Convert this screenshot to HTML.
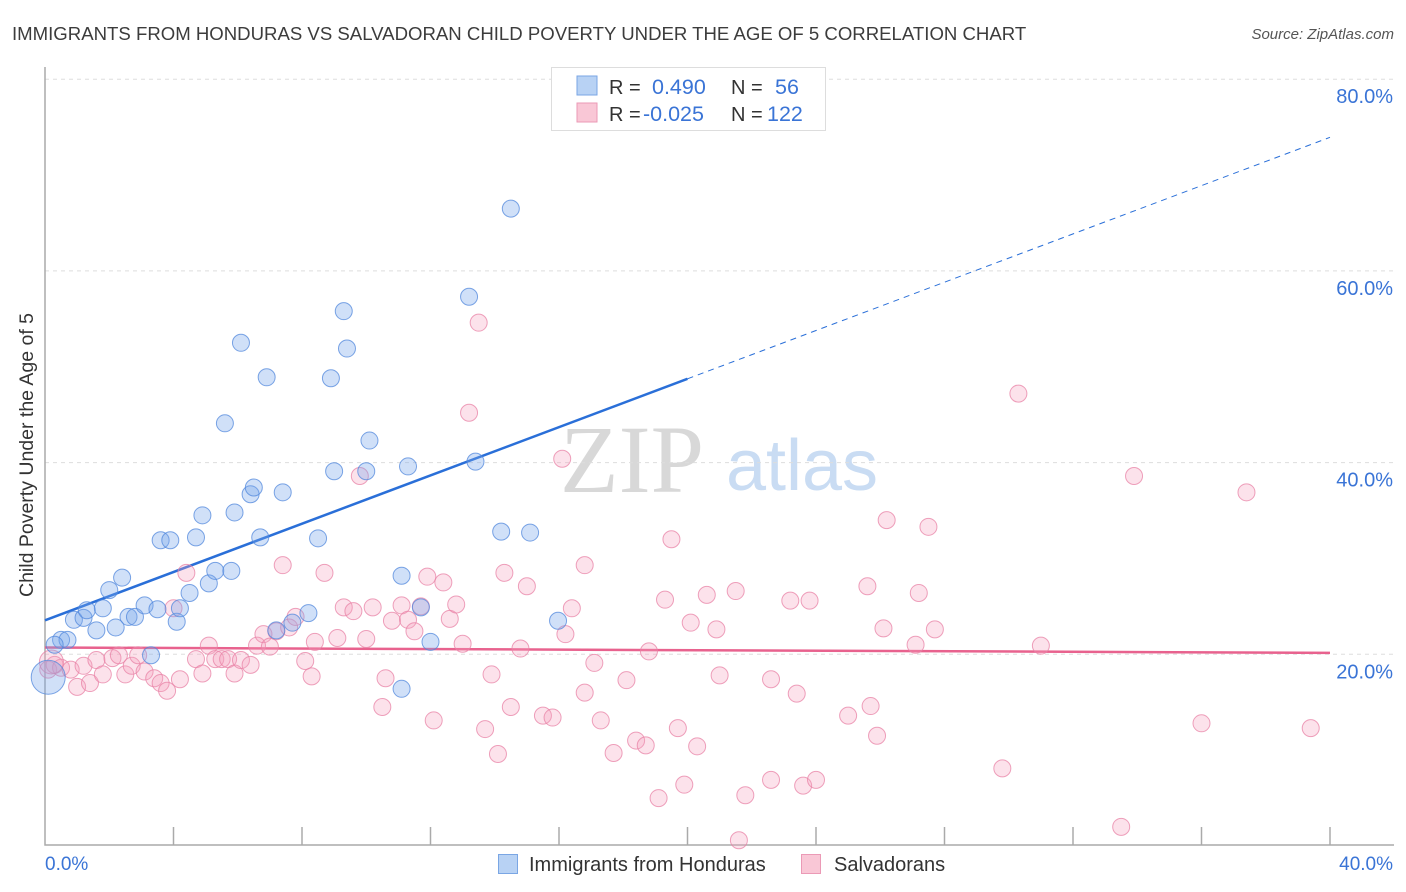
<!DOCTYPE html>
<html><head><meta charset="utf-8">
<style>
body{margin:0;background:#fff;font-family:"Liberation Sans",sans-serif;}
#wrap{position:relative;width:1406px;height:892px;overflow:hidden;}
</style></head>
<body>
<div id="wrap">
<svg id="chart" width="1406" height="892" xmlns="http://www.w3.org/2000/svg">
<text x="12" y="40" font-size="18.6" fill="#3c3c3c">IMMIGRANTS FROM HONDURAS VS SALVADORAN CHILD POVERTY UNDER THE AGE OF 5 CORRELATION CHART</text>
<text x="1394" y="39" font-size="15" fill="#555" font-style="italic" text-anchor="end">Source: ZipAtlas.com</text>
<text transform="translate(33,455) rotate(-90)" font-size="19.5" fill="#333" text-anchor="middle">Child Poverty Under the Age of 5</text>
<g>
<text x="632" y="492" font-size="96" fill="#d8d8d8" font-family="Liberation Serif,serif" text-anchor="middle">ZIP</text>
<text x="802" y="490" font-size="72" fill="#c9dcf3" text-anchor="middle">atlas</text>
</g>
<g id="grid"></g>
<g id="axes"></g>
<g id="trends"></g>
<g id="points"></g>
<g>
<rect x="551.5" y="67.5" width="274" height="63" fill="#fff" stroke="#ddd"/>
<rect x="577" y="76" width="20" height="19" fill="#b8d2f4" stroke="#7aa6e4"/>
<rect x="577" y="103" width="20" height="19" fill="#f9c7d6" stroke="#eb9ab6"/>
<text x="609" y="94" font-size="20" fill="#333">R =</text>
<text x="652" y="94" font-size="21.5" fill="#3a74d6">0.490</text>
<text x="731" y="94" font-size="20" fill="#333">N =</text>
<text x="775" y="94" font-size="21.5" fill="#3a74d6">56</text>
<text x="609" y="121" font-size="20" fill="#333">R =</text>
<text x="643" y="121" font-size="21.5" fill="#3a74d6">-0.025</text>
<text x="731" y="121" font-size="20" fill="#333">N =</text>
<text x="767" y="121" font-size="21.5" fill="#3a74d6">122</text>
</g>
<g>
<rect x="498.5" y="854.5" width="19" height="19" fill="#b8d2f4" stroke="#7aa6e4"/>
<text x="529" y="871" font-size="20" fill="#333">Immigrants from Honduras</text>
<rect x="801.5" y="854.5" width="19" height="19" fill="#f9c7d6" stroke="#eb9ab6"/>
<text x="834" y="871" font-size="20" fill="#333">Salvadorans</text>
</g>
</svg>
</div>
<script>
const xTicks=[0,4,8,12,16,20,24,28,32,36,40];
const yTicks=[20,40,60,80];
const yTickLabels=["20.0%","40.0%","60.0%","80.0%"];
const xEndLabels=["0.0%","40.0%"];
const blueX=[0.1,0.5,0.7,0.9,1.2,1.3,1.6,1.8,2.0,2.2,2.4,2.6,2.8,3.1,3.3,3.5,3.6,3.9,4.1,4.2,4.5,4.7,4.9,5.1,5.3,5.6,5.8,5.9,6.1,6.4,6.5,6.7,6.9,7.2,7.4,7.7,8.2,8.5,8.9,9.0,9.3,9.4,10.0,10.1,11.1,11.1,11.3,11.7,12.0,13.2,13.4,14.2,14.5,15.1,15.97,0.3];
const blueY=[17.6,21.5,21.5,23.6,23.8,24.6,22.5,24.8,26.7,22.8,28.0,23.9,23.9,25.1,19.9,24.7,31.9,31.9,23.4,24.8,26.4,32.2,34.5,27.4,28.7,44.1,28.7,34.8,52.5,36.7,37.4,32.2,48.9,22.5,36.9,23.3,24.3,32.1,48.8,39.1,55.8,51.9,39.1,42.3,16.4,28.2,39.6,24.9,21.3,57.3,40.1,32.8,66.5,32.7,23.5,21.0];
const pinkX=[0.1,0.3,0.5,0.8,1.0,1.2,1.4,1.6,1.8,2.1,2.3,2.5,2.7,2.9,3.1,3.4,3.6,3.8,4.0,4.2,4.4,4.7,4.9,5.1,5.3,5.5,5.7,5.9,6.1,6.4,6.6,6.8,7.0,7.2,7.4,7.6,7.8,8.1,8.3,8.4,8.7,9.1,9.3,9.6,9.8,10.0,10.2,10.5,10.6,10.8,11.1,11.3,11.5,11.7,11.9,12.1,12.4,12.6,12.8,13.0,13.2,13.5,13.7,13.9,14.1,14.3,14.5,14.8,15.0,15.5,15.8,16.1,16.2,16.4,16.8,16.8,17.1,17.3,17.7,18.1,18.4,18.7,18.8,19.1,19.3,19.5,19.7,19.9,20.1,20.3,20.6,20.9,21.0,21.5,21.6,21.8,22.6,22.6,23.2,23.4,23.6,23.8,24.0,25.0,25.6,25.7,25.9,26.1,26.2,27.1,27.2,27.5,27.7,29.8,30.3,31.0,33.5,33.9,36.0,37.4,39.4,0.2];
const pinkY=[18.4,18.9,18.6,18.4,16.6,18.8,17.0,19.4,17.9,19.6,19.9,17.9,18.8,19.9,18.2,17.5,17.0,16.2,24.8,17.4,28.5,19.5,18.0,20.9,19.5,19.5,19.5,18.0,19.4,18.9,20.9,22.1,20.8,22.4,29.3,22.8,23.9,19.3,17.7,21.3,28.5,21.7,24.9,24.5,38.6,21.6,24.9,14.5,17.5,23.5,25.1,23.6,22.4,25.0,28.1,13.1,27.5,23.7,25.2,21.1,45.2,54.6,12.2,17.9,9.6,28.5,14.5,20.6,27.1,13.6,13.4,40.4,22.1,24.8,16.0,29.3,19.1,13.1,9.7,17.3,11.0,10.5,20.3,5.0,25.7,32.0,12.3,6.4,23.3,10.4,26.2,22.6,17.8,26.6,0.6,5.3,17.4,6.9,25.6,15.9,6.3,25.6,6.9,13.6,27.1,14.6,11.5,22.7,34.0,21.0,26.4,33.3,22.6,8.1,47.2,20.9,2.0,38.6,12.8,36.9,12.3,19.2];
const NS="http://www.w3.org/2000/svg";
const X0=45,X1=1330,Y0=846,YPER=9.585;
const SOLID_END=20;
function xs(v){return X0+(X1-X0)*v/40;}
function ys(v){return Y0-v*YPER;}
function mk(tag,attrs,parent){const e=document.createElementNS(NS,tag);for(const k in attrs)e.setAttribute(k,attrs[k]);parent.appendChild(e);return e;}
const grid=document.getElementById('grid'),axes=document.getElementById('axes'),trends=document.getElementById('trends'),pts=document.getElementById('points');
yTicks.forEach((t,i)=>{
 const l=mk('line',{x1:X0,x2:1394,y1:ys(t),y2:ys(t),stroke:'#ddd','stroke-dasharray':'4,4'},grid);
 
 
 const tx=mk('text',{x:1393,y:ys(t)+24,'font-size':20,fill:'#3a74d6','text-anchor':'end'},axes);
 tx.textContent=yTickLabels[i];
 
 
});
const ax=mk('path',{d:`M${X0},67V845H1394`,fill:'none',stroke:'#aaa','stroke-width':1.5},axes);


xTicks.forEach((t,i)=>{if(i===0)return;
 const l=mk('line',{x1:xs(t),x2:xs(t),y1:827,y2:845,stroke:'#aaa','stroke-width':1.5},axes);
 
 
});
const xl0=mk('text',{x:45,y:870,'font-size':19,fill:'#3a74d6'},axes);xl0.textContent=xEndLabels[0];


const xl1=mk('text',{x:1393,y:870,'font-size':19,fill:'#3a74d6','text-anchor':'end'},axes);xl1.textContent=xEndLabels[1];


function reg(X,Y){const n=X.length;let mx=0,my=0;for(let i=0;i<n;i++){mx+=X[i];my+=Y[i];}mx/=n;my/=n;let sxy=0,sxx=0;for(let i=0;i<n;i++){sxy+=(X[i]-mx)*(Y[i]-my);sxx+=(X[i]-mx)**2;}const b=sxy/sxx;return[my-b*mx,b];}
const [ba,bb]=reg(blueX,blueY),[pa,pb]=reg(pinkX,pinkY);
let e=mk('line',{x1:xs(0),y1:ys(ba),x2:xs(SOLID_END),y2:ys(ba+bb*SOLID_END),stroke:'#2a6fd8','stroke-width':2.5},trends);


e=mk('line',{x1:xs(SOLID_END),y1:ys(ba+bb*SOLID_END),x2:xs(40),y2:ys(ba+bb*40),stroke:'#2a6fd8','stroke-width':1,'stroke-dasharray':'6,5'},trends);


e=mk('line',{x1:xs(0),y1:ys(pa),x2:xs(40),y2:ys(pa+pb*40),stroke:'#e8628e','stroke-width':2.5},trends);


pinkX.forEach((x,i)=>{
 const c=mk('circle',{cx:xs(x),cy:ys(pinkY[i]),r:i===pinkX.length-1?12:8.5,fill:'rgba(244,160,188,0.3)',stroke:'rgba(232,130,165,0.75)','stroke-width':1},pts);
 
 
});
blueX.forEach((x,i)=>{
 const c=mk('circle',{cx:xs(x),cy:ys(blueY[i]),r:i===0?17:8.5,fill:'rgba(120,165,235,0.35)',stroke:'rgba(80,135,220,0.75)','stroke-width':1},pts);
 
 
});
</script>
</body></html>
